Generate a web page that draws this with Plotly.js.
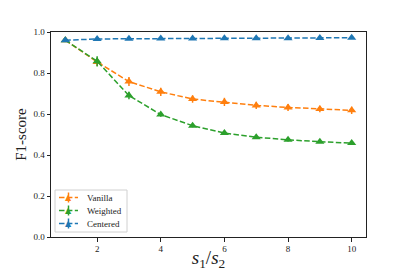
<!DOCTYPE html>
<html><head><meta charset="utf-8">
<script src="https://cdn.plot.ly/plotly-3.0.1.min.js"></script>
<style>body{margin:0;background:#fff}#c{width:407px;height:271px}</style>
</head><body><div id="c"></div>
<script>
const ratio = [1,2,3,4,5,6,7,8,9,10];
const vanilla = [0.960,0.854,0.758,0.708,0.673,0.659,0.642,0.632,0.624,0.618];
const vanillaErr = [0.005,0.02,0.022,0.02,0.018,0.02,0.018,0.017,0.016,0.018];
const weighted = [0.960,0.857,0.690,0.597,0.543,0.507,0.487,0.474,0.465,0.458];
const weightedErr = [0.005,0.025,0.018,0.01,0.008,0.006,0.006,0.008,0.007,0.006];
const centered = [0.960,0.966,0.967,0.968,0.968,0.969,0.970,0.970,0.971,0.972];
const centeredErr = [0.004,0.004,0.004,0.004,0.004,0.004,0.004,0.004,0.004,0.004];
const names = ['Vanilla','Weighted','Centered'];
const colors = ['#ff7f0e','#2ca02c','#1f77b4'];
const ys = [vanilla, weighted, centered];
const errs = [vanillaErr, weightedErr, centeredErr];
const DASH = '5.5px,2.4px';
const traces = ys.map((y,i)=>({
  x: ratio, y: y, name: names[i], type:'scatter', mode:'lines+markers',
  line:{color:colors[i], dash:DASH, width:1.5},
  marker:{symbol:'triangle-up', size:8, color:colors[i]},
  error_y:{type:'data', array:errs[i], visible:true, color:colors[i], thickness:1.5, width:0},
  showlegend:false
}));
const serif = '"Liberation Serif", "DejaVu Serif", serif';
const M = {l:51, r:41, t:32, b:34}, W = 407, H = 271;
const pw = W - M.l - M.r, ph = H - M.t - M.b;
const px = x => (x - M.l) / pw, py = y => (H - M.b - y) / ph;
// legend box drawn in paper coordinates
const shapes = [{type:'rect', xref:'paper', yref:'paper', x0:px(55), x1:px(127), y0:py(232), y1:py(190),
  line:{color:'#d0d0d0', width:1}, fillcolor:'rgba(255,255,255,0.85)', layer:'above'}];
const annotations = [];
const rowY = [197.5, 210.5, 223.5];
names.forEach((n,i)=>{
  shapes.push({type:'line', xref:'paper', yref:'paper', x0:px(59), x1:px(78), y0:py(rowY[i]), y1:py(rowY[i]),
    line:{color:colors[i], width:1.5, dash:DASH}, layer:'above'});
  shapes.push({type:'line', xref:'paper', yref:'paper', x0:px(68.5), x1:px(68.5), y0:py(rowY[i]-5), y1:py(rowY[i]+5),
    line:{color:colors[i], width:1.5}, layer:'above'});
  annotations.push({xref:'paper', yref:'paper', x:px(68.5), y:py(rowY[i]-0.5), text:'▲', showarrow:false,
    font:{family:'"DejaVu Sans", sans-serif', size:8, color:colors[i]}, xanchor:'center', yanchor:'middle'});
  annotations.push({xref:'paper', yref:'paper', x:px(85), y:py(rowY[i]), text:n, showarrow:false,
    font:{family:serif, size:9, color:'#222'}, xanchor:'left', yanchor:'middle'});
});
const layout = {
  width:W, height:H, margin:M,
  paper_bgcolor:'#fff', plot_bgcolor:'#fff',
  font: {family:serif, size:9, color:'#222'},
  showlegend:false, shapes:shapes, annotations:annotations,
  xaxis:{range:[0.55,10.45], tickvals:[2,4,6,8,10], ticks:'outside', ticklen:3.5, tickcolor:'#222',
    showgrid:false, zeroline:false, showline:true, linecolor:'#222', linewidth:1, mirror:true,
    title:{text:'<i>s</i><sub>1</sub>/<i>s</i><sub>2</sub>', font:{family:serif, size:19, color:'#222'}, standoff:3}},
  yaxis:{range:[0,1], tickvals:[0,0.2,0.4,0.6,0.8,1.0], tickformat:'.1f', ticks:'outside', ticklen:3.5, tickcolor:'#222',
    showgrid:false, zeroline:false, showline:true, linecolor:'#222', linewidth:1, mirror:true,
    title:{text:'F1-score', font:{family:serif, size:15, color:'#222'}, standoff:3}}
};
Plotly.newPlot('c', traces, layout, {displayModeBar:false, staticPlot:true});
</script></body></html>
